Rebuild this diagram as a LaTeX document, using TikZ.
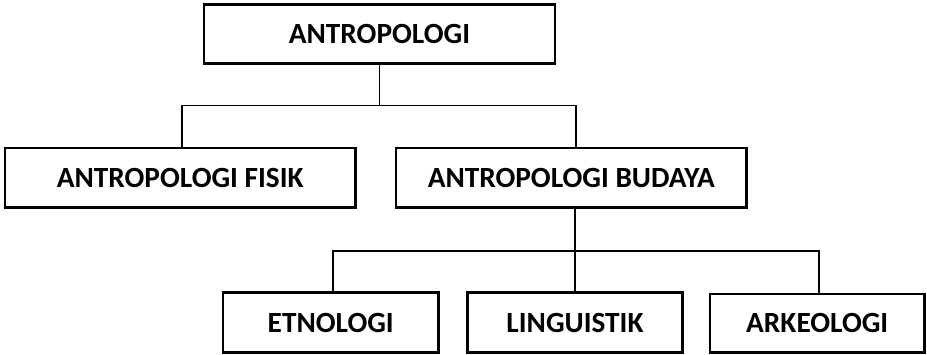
\documentclass[tikz,border=0pt]{standalone}
\usepackage{fontspec}
\setmainfont{Carlito}
\begin{document}
\begin{tikzpicture}[x=1bp,y=-1bp,
  box/.style={draw=black, line width=2.2bp, rectangle, inner sep=0pt,
    font=\bfseries\fontsize{29.3bp}{35bp}\selectfont, text=black},
  conn/.style={draw=black, line width=1.6bp}]
\useasboundingbox (0,0) rectangle (927,354);
\node[box, minimum width=351bp, minimum height=59bp] (top) at (379.5,34) {ANTROPOLOGI};
\node[box, minimum width=350.5bp, minimum height=59.5bp] (fisik) at (180.25,177.75) {ANTROPOLOGI FISIK};
\node[box, minimum width=350.5bp, minimum height=59.5bp] (budaya) at (571.25,177.75) {ANTROPOLOGI BUDAYA};
\node[box, minimum width=215.5bp, minimum height=60bp] (etno) at (330.75,322.5) {ETNOLOGI};
\node[box, minimum width=215bp, minimum height=60bp] (ling) at (575,322.5) {LINGUISTIK};
\node[box, minimum width=214.5bp, minimum height=58.5bp] (arkeo) at (817.25,323.25) {ARKEOLOGI};
\coordinate (h1L) at (182,105.5);
\coordinate (h1R) at (576,105.5);
\coordinate (h2L) at (333,251);
\coordinate (h2M) at (575,251);
\coordinate (h2R) at (819,251);
\draw[conn] (top.south) -- (top.south |- h1L);
\draw[conn] (fisik.north -| h1L) |- (h1R) -- (budaya.north -| h1R);
\draw[conn] (budaya.south -| h2M) -- (h2M);
\draw[conn] (etno.north -| h2L) |- (h2R) -- (arkeo.north -| h2R);
\draw[conn] (h2M) -- (ling.north -| h2M);
\end{tikzpicture}
\end{document}
